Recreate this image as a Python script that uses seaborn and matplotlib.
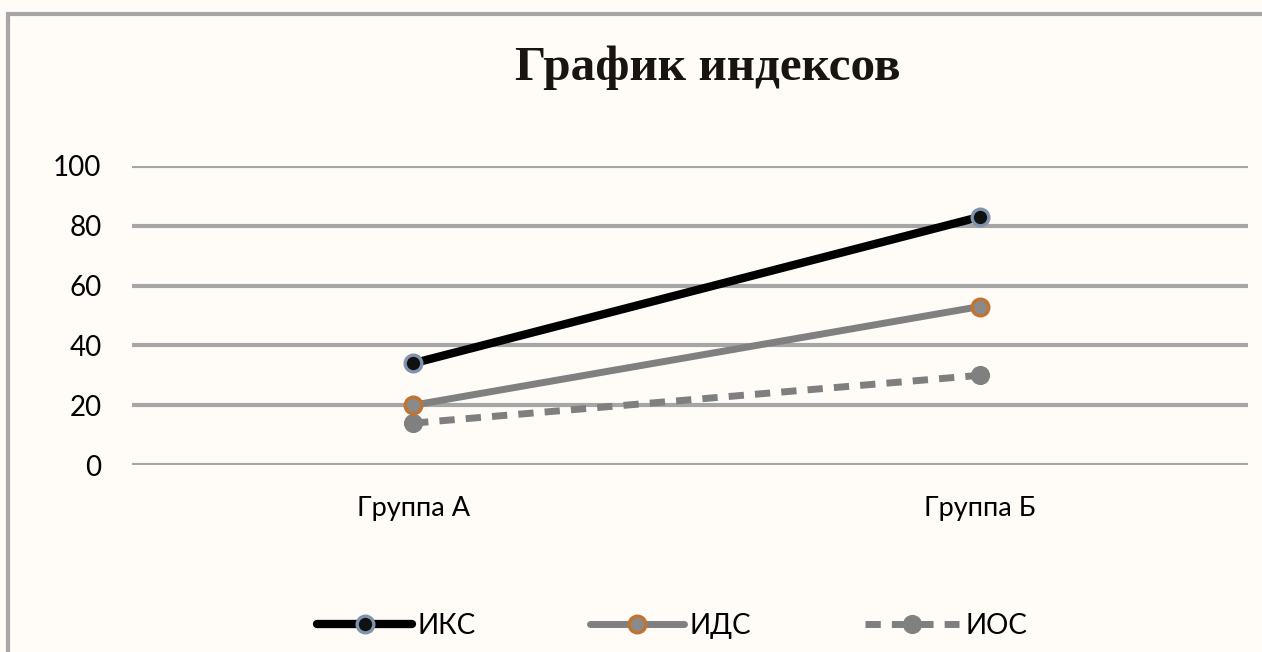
import pandas as pd
import seaborn as sns
import matplotlib.pyplot as plt
from matplotlib.patches import Rectangle

# Data
groups = ['Группа А', 'Группа Б']
iks = [34, 83]
ids = [20, 53]
ios = [14, 30]

df = pd.DataFrame({'group': groups, 'ИКС': iks, 'ИДС': ids, 'ИОС': ios})
df['x'] = range(len(groups))

sns.set_style('white')
plt.rcParams['font.family'] = ['Lato', 'DejaVu Sans']
plt.rcParams['text.color'] = 'black'

bg = '#fffcf8'
fig = plt.figure(figsize=(12.62, 6.52), dpi=100, facecolor=bg)
ax = fig.add_axes([132 / 1262, 1 - 465 / 652, 1116 / 1262, 299 / 652])
ax.set_facecolor(bg)

# outer frame
fig.patches.append(Rectangle((8 / 1262, -0.1), 1.2, (652 - 14) / 652 + 0.1,
                             transform=fig.transFigure, fill=False,
                             edgecolor='#a6a6a6', linewidth=3, zorder=0))

sns.lineplot(data=df, x='x', y='ИКС', ax=ax, color='black', linewidth=6,
             marker='o', markersize=12, markerfacecolor='#111111',
             markeredgecolor='#7f93ad', markeredgewidth=2.4, label='ИКС', zorder=5)
sns.lineplot(data=df, x='x', y='ИДС', ax=ax, color='#808080', linewidth=5,
             marker='o', markersize=12, markerfacecolor='#8a8a8a',
             markeredgecolor='#c07430', markeredgewidth=2.4, label='ИДС', zorder=4)
sns.lineplot(data=df, x='x', y='ИОС', ax=ax, color='#7f7f7f', linewidth=5,
             linestyle=(0, (2.2, 1.6)), marker='o', markersize=13,
             markerfacecolor='#808080', markeredgecolor='#808080',
             label='ИОС', zorder=3)

ax.set_ylim(0, 100)
ax.set_yticks(range(0, 101, 20))
ax.set_xlim(-0.496, 1.473)
ax.set_xticks(df['x'])
ax.set_xticklabels(groups)
ax.set_xlabel('')
ax.set_ylabel('')
ax.grid(axis='y', color='#a6a6a6', linewidth=3)
ax.set_axisbelow(True)
for s in ax.spines.values():
    s.set_visible(False)
ax.tick_params(axis='y', labelsize=20, pad=22, length=0, labelcolor='black')
ax.tick_params(axis='x', labelsize=19.5, pad=22, length=0, labelcolor='black')

ax.set_title('График индексов', fontsize=35.5, fontweight='bold', x=0.516,
             family=['Liberation Serif', 'DejaVu Serif'], color='#1a1410', pad=62)

leg = ax.legend(loc='upper center', bbox_to_anchor=(0.484, -0.41), ncol=3,
                frameon=False, fontsize=20, handlelength=3.4, columnspacing=4.1,
                handletextpad=0.2)

fig.savefig('out.png', dpi=100, facecolor=bg)
